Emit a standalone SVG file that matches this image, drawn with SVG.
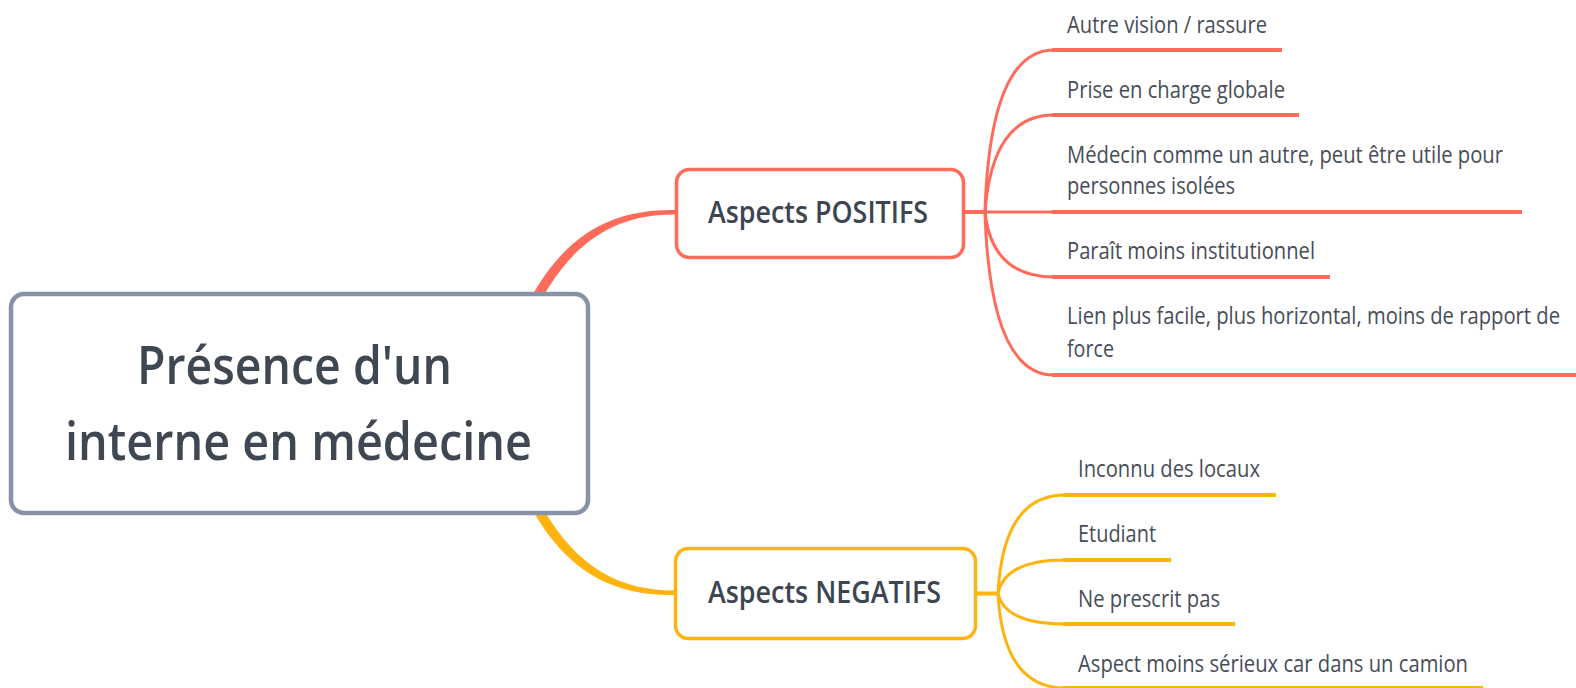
<svg xmlns="http://www.w3.org/2000/svg" width="1576" height="688" viewBox="0 0 1576 688">
<style>
  .title { font-family: "Open Sans", "Noto Sans", "Liberation Sans", sans-serif; font-size: 53px; font-weight: 600; fill: #3f4752; }
  .branch { font-family: "Open Sans", "Noto Sans", "Liberation Sans", sans-serif; font-size: 30px; font-weight: 600; fill: #3d4551; }
  .leaf { font-family: "Open Sans", "Noto Sans", "Liberation Sans", sans-serif; font-size: 23px; fill: #474d58; }
  .red { stroke: #ff6b5a; fill: none; }
  .yel { stroke: #ffb30f; fill: none; }
  .curve { stroke-width: 3; }
  .ul { stroke-width: 4; }
</style>
<rect width="1576" height="688" fill="#ffffff"/>
<g id="connectors">
  <path d="M 516 328 C 556 236, 608 209, 676 210 L 676 214.5 C 612 214, 563 244, 525 333 Z" fill="#ff6b5a"/>
  <path d="M 516 477 C 556 569, 608 596, 676 595 L 676 590.5 C 612 591, 563 561, 525 472 Z" fill="#ffb30f"/>
  <path class="red" stroke-width="4" d="M 964 212 L 986 212"/>
  <path class="red curve" d="M 985 212 Q 990 50 1054 50"/>
  <path class="red curve" d="M 985 212 Q 992 115 1054 115"/>
  <path class="red curve" d="M 985 212 L 1054 212"/>
  <path class="red curve" d="M 985 212 Q 992 277 1054 277"/>
  <path class="red curve" d="M 985 212 Q 990 375 1054 375"/>
  <path class="yel" stroke-width="4" d="M 976 593.5 L 999 593.5"/>
  <path class="yel curve" d="M 998 593.5 Q 1003 495 1065 495"/>
  <path class="yel curve" d="M 998 593.5 Q 1005 560 1065 560"/>
  <path class="yel curve" d="M 998 593.5 Q 1005 624 1065 624"/>
  <path class="yel curve" d="M 998 593.5 Q 1003 688 1065 688"/>
</g>
<g id="central">
  <rect x="11" y="294" width="577" height="219" rx="13" fill="#ffffff" stroke="#8792a6" stroke-width="4.5"/>
  <text class="title" x="137" y="384" textLength="315" lengthAdjust="spacingAndGlyphs">Présence d'un</text>
  <text class="title" x="65" y="460" textLength="467" lengthAdjust="spacingAndGlyphs">interne en médecine</text>
</g>
<g id="positifs">
  <rect x="676.5" y="169.5" width="287" height="88" rx="13" fill="#ffffff" stroke="#ff6b5a" stroke-width="3.5"/>
  <text class="branch" x="708" y="223" textLength="220" lengthAdjust="spacingAndGlyphs">Aspects POSITIFS</text>
</g>
<g id="negatifs">
  <rect x="675.5" y="548.5" width="300" height="90" rx="13" fill="#ffffff" stroke="#ffb30f" stroke-width="3.5"/>
  <text class="branch" x="708" y="603" textLength="233" lengthAdjust="spacingAndGlyphs">Aspects NEGATIFS</text>
</g>
<g id="pos1">
  <text class="leaf" x="1067" y="33" textLength="200" lengthAdjust="spacingAndGlyphs">Autre vision / rassure</text>
  <line class="red ul" x1="1052" y1="50" x2="1282" y2="50"/>
</g>
<g id="pos2">
  <text class="leaf" x="1067" y="98" textLength="218" lengthAdjust="spacingAndGlyphs">Prise en charge globale</text>
  <line class="red ul" x1="1052" y1="115" x2="1299" y2="115"/>
</g>
<g id="pos3">
  <text class="leaf" x="1067" y="163" textLength="436" lengthAdjust="spacingAndGlyphs">Médecin comme un autre, peut être utile pour</text>
  <text class="leaf" x="1067" y="194" textLength="168" lengthAdjust="spacingAndGlyphs">personnes isolées</text>
  <line class="red ul" x1="1052" y1="212" x2="1522" y2="212"/>
</g>
<g id="pos4">
  <text class="leaf" x="1067" y="259" textLength="248" lengthAdjust="spacingAndGlyphs">Paraît moins institutionnel</text>
  <line class="red ul" x1="1052" y1="277" x2="1330" y2="277"/>
</g>
<g id="pos5">
  <text class="leaf" x="1067" y="324" textLength="493" lengthAdjust="spacingAndGlyphs">Lien plus facile, plus horizontal, moins de rapport de</text>
  <text class="leaf" x="1067" y="357" textLength="47" lengthAdjust="spacingAndGlyphs">force</text>
  <line class="red ul" x1="1052" y1="375" x2="1576" y2="375"/>
</g>
<g id="neg1">
  <text class="leaf" x="1078" y="477" textLength="182" lengthAdjust="spacingAndGlyphs">Inconnu des locaux</text>
  <line class="yel ul" x1="1063" y1="495" x2="1276" y2="495"/>
</g>
<g id="neg2">
  <text class="leaf" x="1078" y="542" textLength="78" lengthAdjust="spacingAndGlyphs">Etudiant</text>
  <line class="yel ul" x1="1063" y1="560" x2="1171" y2="560"/>
</g>
<g id="neg3">
  <text class="leaf" x="1078" y="607" textLength="142" lengthAdjust="spacingAndGlyphs">Ne prescrit pas</text>
  <line class="yel ul" x1="1063" y1="624" x2="1235" y2="624"/>
</g>
<g id="neg4">
  <text class="leaf" x="1078" y="672" textLength="390" lengthAdjust="spacingAndGlyphs">Aspect moins sérieux car dans un camion</text>
  <line class="yel ul" x1="1063" y1="688" x2="1483" y2="688"/>
</g>
</svg>
